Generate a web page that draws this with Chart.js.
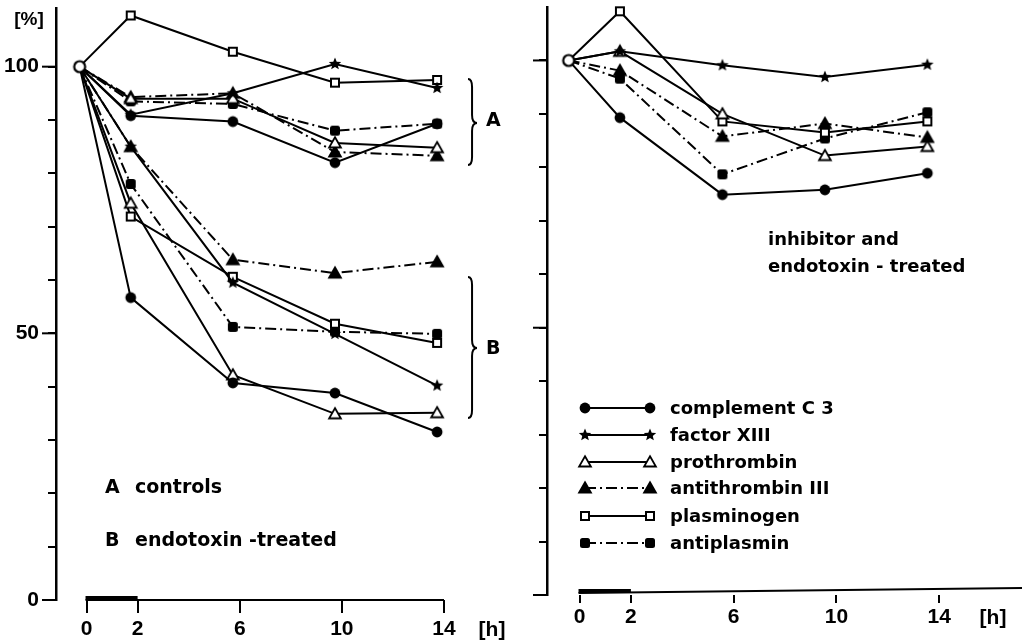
<!DOCTYPE html>
<html><head><meta charset="utf-8">
<script src="https://cdn.jsdelivr.net/npm/chart.js@4.4.0/dist/chart.umd.min.js"></script>
<style>
html,body{margin:0;padding:0;background:#fff;}
#wrap{position:relative;width:1022px;height:644px;background:#fff;}
#c1{position:absolute;left:0;top:0;}
#c2{position:absolute;left:511px;top:0;}
</style></head><body>
<div id="wrap"><canvas id="c1" width="511" height="644"></canvas><canvas id="c2" width="511" height="644"></canvas></div>
<script>
// ---------- data ----------
const hours = [0, 2, 6, 10, 14];
const xTickValues = [0, 2, 6, 10, 14];
const yTickValues = [0, 50, 100];
const seriesNames = ['complement C 3', 'factor XIII', 'prothrombin', 'antithrombin III', 'plasminogen', 'antiplasmin'];

// A: controls (left panel)
const ctrlC3   = [100, 90.8, 89.7, 82.0, 89.3];
const ctrlF13  = [100, 91.0, 95.0, 100.5, 96.0];
const ctrlProT = [100, 94.0, 94.0, 85.7, 84.8];
const ctrlAT3  = [100, 94.3, 95.0, 84.0, 83.3];
const ctrlPlg  = [100, 109.6, 102.8, 97.0, 97.5];
const ctrlAP   = [100, 93.5, 93.0, 88.0, 89.3];

// B: endotoxin-treated (left panel)
const endoC3   = [100, 56.7, 40.7, 38.8, 31.5];
const endoF13  = [100, 85.0, 59.5, 49.9, 40.2];
const endoProT = [100, 74.4, 42.2, 34.9, 35.1];
const endoAT3  = [100, 85.0, 63.8, 61.3, 63.4];
const endoPlg  = [100, 71.9, 60.6, 51.8, 48.2];
const endoAP   = [100, 78.0, 51.2, 50.3, 49.9];

// inhibitor and endotoxin-treated (right panel)
const inhC3   = [100, 89.3, 74.9, 75.8, 78.9];
const inhF13  = [100, 101.7, 99.1, 96.9, 99.2];
const inhProT = [100, 101.7, 90.0, 82.2, 83.9];
const inhAT3  = [100, 98.1, 85.8, 88.2, 85.6];
const inhPlg  = [100, 109.2, 88.6, 86.5, 88.6];
const inhAP   = [100, 96.6, 78.7, 85.4, 90.3];

// ---------- styles ----------
const TEXTF = "'DejaVu Sans', sans-serif";
const NUMF = "'Liberation Sans', Arial, sans-serif";
const DASHDOT = [11, 4, 2, 4];

function makeMarker(kind) {
  const c = document.createElement('canvas');
  c.width = 16; c.height = 16;
  const g = c.getContext('2d');
  g.translate(8, 8);
  g.strokeStyle = '#000'; g.fillStyle = '#000'; g.lineWidth = 1.8;
  if (kind === 'circleFilled') {
    g.beginPath(); g.arc(0, 0, 5.4, 0, Math.PI * 2); g.fill();
  } else if (kind === 'circleOpen') {
    g.beginPath(); g.arc(0, 0, 5.5, 0, Math.PI * 2); g.fillStyle = '#fff'; g.fill(); g.lineWidth = 2.2; g.stroke();
  } else if (kind === 'star') {
    g.beginPath();
    for (let i = 0; i < 10; i++) {
      const r = i % 2 === 0 ? 6.5 : 2.9;
      const a = -Math.PI / 2 + i * Math.PI / 5;
      const px = r * Math.cos(a), py = r * Math.sin(a);
      if (i === 0) g.moveTo(px, py); else g.lineTo(px, py);
    }
    g.closePath(); g.fill();
  } else if (kind === 'triOpen' || kind === 'triFilled') {
    g.beginPath(); g.moveTo(0, -5.8); g.lineTo(5.9, 4.5); g.lineTo(-5.9, 4.5); g.closePath();
    g.fillStyle = kind === 'triOpen' ? '#fff' : '#000'; g.fill(); g.stroke();
  } else if (kind === 'sqOpen') {
    g.fillStyle = '#fff'; g.fillRect(-4, -4, 8, 8); g.lineWidth = 2; g.strokeRect(-4, -4, 8, 8);
  } else if (kind === 'sqFilled') {
    g.beginPath();
    if (g.roundRect) g.roundRect(-5, -5, 10, 10, 2.5); else g.rect(-5, -5, 10, 10);
    g.fill();
  }
  return c;
}
const MK = {};
['circleFilled','circleOpen','star','triOpen','triFilled','sqOpen','sqFilled'].forEach(k => MK[k] = makeMarker(k));
const seriesMarkers = ['circleFilled', 'star', 'triOpen', 'triFilled', 'sqOpen', 'sqFilled'];
const seriesDash = [[], [], [], DASHDOT, [], DASHDOT];

function lineDataset(label, values, si) {
  return {
    label: label,
    data: hours.map((h, i) => ({ x: h, y: values[i] })),
    xAxisID: 'x', yAxisID: 'y',
    borderColor: '#000', borderWidth: 2, borderDash: seriesDash[si],
    tension: 0, fill: false, clip: false,
    pointStyle: MK[seriesMarkers[si]],
    pointRadius: ctx => ctx.dataIndex === 0 ? 0 : 5,
    pointHoverRadius: ctx => ctx.dataIndex === 0 ? 0 : 5,
    order: 1
  };
}
function startDataset(values) {
  return {
    label: 'start', data: [{ x: hours[0], y: values[0] }],
    xAxisID: 'x', yAxisID: 'y', showLine: false, clip: false,
    pointStyle: MK.circleOpen, pointRadius: 6, order: 0
  };
}

function panelOptions(cfg) {
  return {
    responsive: false, animation: false, events: [],
    layout: { padding: { top: cfg.top, left: 0, right: 0, bottom: 0 } },
    plugins: { legend: { display: false }, tooltip: { enabled: false } },
    scales: {
      x: { type: 'linear', display: false, min: cfg.xmin, max: cfg.xmax },
      xt: {
        type: 'linear', position: 'bottom', min: cfg.tmin, max: cfg.tmax,
        afterBuildTicks: s => { s.ticks = xTickValues.map(v => ({ value: v })); },
        afterFit: s => { s.height = cfg.xh; s.paddingLeft = 0; s.paddingRight = 0; },
        grid: { display: true, drawOnChartArea: false, drawTicks: true, tickLength: cfg.tl, color: '#000', lineWidth: 2 },
        border: { display: false },
        ticks: { color: '#000', font: { family: NUMF, size: 21, weight: 'bold' }, padding: cfg.tpad, autoSkip: false, maxRotation: 0, callback: v => String(v) }
      },
      y: {
        type: 'linear', min: 0, max: cfg.ymax,
        afterBuildTicks: s => { const t = []; for (let v = 0; v <= 100; v += 10) t.push({ value: v }); s.ticks = t; },
        afterFit: s => { s.width = cfg.yw; s.paddingTop = 0; s.paddingBottom = 0; },
        grid: { display: true, drawOnChartArea: false, drawTicks: true, tickLength: 8, color: '#000', lineWidth: 2 },
        border: { display: true, color: '#000', width: 2.5 },
        ticks: { display: cfg.ylabels, color: '#000', font: { family: NUMF, size: 21, weight: 'bold' }, padding: 9,
                 callback: v => yTickValues.includes(v) ? String(v) : '' }
      }
    }
  };
}

function drawBrace(ctx, x, y1, y2, ym, w) {
  const m = x + w * 0.45, r = 8;
  ctx.beginPath();
  ctx.moveTo(x, y1);
  ctx.quadraticCurveTo(m, y1, m, y1 + r);
  ctx.lineTo(m, ym - r);
  ctx.quadraticCurveTo(m, ym, x + w, ym);
  ctx.quadraticCurveTo(m, ym, m, ym + r);
  ctx.lineTo(m, y2 - r);
  ctx.quadraticCurveTo(m, y2, x, y2);
  ctx.stroke();
}

function axisDecor(chart, cfg) {
  const ctx = chart.ctx, xt = chart.scales.xt, y = chart.scales.y, a = chart.chartArea;
  ctx.save();
  ctx.strokeStyle = '#000'; ctx.fillStyle = '#000';
  const x0 = xt.getPixelForValue(xTickValues[0]);
  const xEnd = cfg.lineToEdge ? chart.width : xt.getPixelForValue(xTickValues[xTickValues.length - 1]);
  ctx.lineWidth = 2;
  ctx.beginPath(); ctx.moveTo(x0 - 1, a.bottom + cfg.lineOff); ctx.lineTo(xEnd, a.bottom + cfg.lineOff - cfg.slope); ctx.stroke();
  // bold treatment bar 0-2 h
  ctx.lineWidth = 4;
  ctx.beginPath(); ctx.moveTo(x0 - 1, a.bottom + cfg.lineOff - 2); ctx.lineTo(xt.getPixelForValue(xTickValues[1]), a.bottom + cfg.lineOff - 2); ctx.stroke();
  // longer major y ticks
  ctx.lineWidth = 2;
  yTickValues.forEach(v => {
    const py = y.getPixelForValue(v);
    ctx.beginPath(); ctx.moveTo(a.left - 14, py); ctx.lineTo(a.left, py); ctx.stroke();
  });
  ctx.font = "bold 21px " + NUMF;
  ctx.textAlign = 'center'; ctx.textBaseline = 'middle';
  ctx.fillText('[h]', cfg.hx, cfg.hy);
  ctx.restore();
}

const leftPlugin = {
  id: 'leftDecor',
  afterDraw(chart) {
    axisDecor(chart, { lineOff: 0, slope: 0, lineToEdge: false, hx: 492, hy: 630 });
    const ctx = chart.ctx;
    ctx.save();
    ctx.fillStyle = '#000'; ctx.strokeStyle = '#000';
    ctx.font = "bold 19px " + NUMF; ctx.textAlign = 'center'; ctx.textBaseline = 'middle';
    ctx.fillText('[%]', 29, 20);
    ctx.font = "bold 19px " + TEXTF; ctx.textAlign = 'left';
    ctx.fillText('A', 105, 488); ctx.fillText('controls', 135, 488);
    ctx.fillText('B', 105, 541); ctx.fillText('endotoxin -treated', 135, 541);
    ctx.fillText('A', 486, 121);
    ctx.fillText('B', 486, 349);
    ctx.lineWidth = 2;
    drawBrace(ctx, 468, 79, 165, 123, 9);
    drawBrace(ctx, 468, 277, 418, 348, 9);
    ctx.restore();
  }
};

const rightPlugin = {
  id: 'rightDecor',
  afterDraw(chart) {
    axisDecor(chart, { lineOff: -2, slope: 5, lineToEdge: true, hx: 993 - 511, hy: 618 });
    const ctx = chart.ctx, off = 511;
    ctx.save();
    ctx.fillStyle = '#000'; ctx.strokeStyle = '#000';
    ctx.font = "bold 18px " + TEXTF; ctx.textAlign = 'left'; ctx.textBaseline = 'middle';
    ctx.fillText('inhibitor and', 768 - off, 240);
    ctx.fillText('endotoxin - treated', 768 - off, 267);
    // legend built from the dataset styles
    const rows = [408, 435, 462, 488, 516, 543];
    const ds = chart.data.datasets.filter(d => d.label !== 'start');
    ds.forEach((d, i) => {
      const yy = rows[i];
      ctx.lineWidth = 2; ctx.setLineDash(d.borderDash || []);
      ctx.beginPath(); ctx.moveTo(585 - off, yy); ctx.lineTo(650 - off, yy); ctx.stroke();
      ctx.setLineDash([]);
      const m = d.pointStyle;
      ctx.drawImage(m, 585 - off - m.width / 2, yy - m.height / 2);
      ctx.drawImage(m, 650 - off - m.width / 2, yy - m.height / 2);
      ctx.fillText(d.label, 670 - off, yy + 1);
    });
    ctx.restore();
  }
};

const leftDatasets = [startDataset(ctrlC3)];
[ctrlC3, ctrlF13, ctrlProT, ctrlAT3, ctrlPlg, ctrlAP].forEach((v, i) => leftDatasets.push(lineDataset('A ' + seriesNames[i], v, i)));
[endoC3, endoF13, endoProT, endoAT3, endoPlg, endoAP].forEach((v, i) => leftDatasets.push(lineDataset('B ' + seriesNames[i], v, i)));

const rightDatasets = [startDataset(inhC3)];
[inhC3, inhF13, inhProT, inhAT3, inhPlg, inhAP].forEach((v, i) => rightDatasets.push(lineDataset(seriesNames[i], v, i)));

new Chart(document.getElementById('c1'), {
  type: 'line',
  data: { datasets: leftDatasets },
  options: panelOptions({ top: 8, ymax: 111, yw: 56, xh: 44, tl: 13, tpad: 4,
    xmin: -0.926, xmax: 16.62, tmin: -1.196, tmax: 16.35, ylabels: true }),
  plugins: [leftPlugin]
});

new Chart(document.getElementById('c2'), {
  type: 'line',
  data: { datasets: rightDatasets },
  options: panelOptions({ top: 6, ymax: 110, yw: 36, xh: 49, tl: 8, tpad: 2,
    xmin: -0.846, xmax: 17.42, tmin: -1.266, tmax: 16.95, ylabels: false }),
  plugins: [rightPlugin]
});
</script>
</body></html>
